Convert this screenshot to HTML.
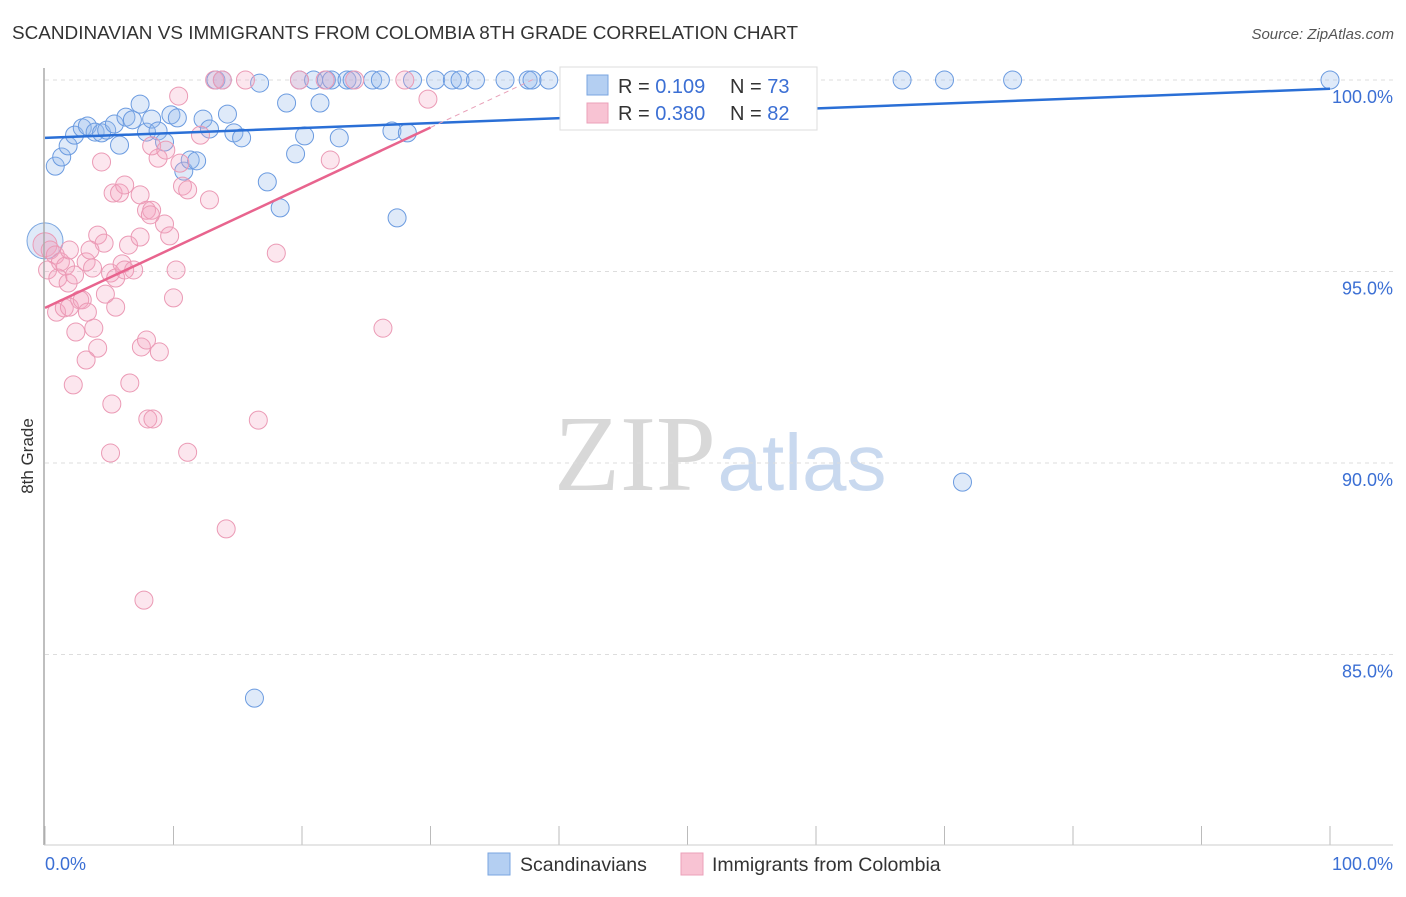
<!DOCTYPE html>
<html><head><meta charset="utf-8"><style>
body{margin:0;background:#fff;font-family:"Liberation Sans",sans-serif}
</style></head><body>
<svg width="1406" height="892" xmlns="http://www.w3.org/2000/svg" id="c">
<text x="12" y="39" font-size="18.5" fill="#333" textLength="786" lengthAdjust="spacingAndGlyphs">SCANDINAVIAN VS IMMIGRANTS FROM COLOMBIA 8TH GRADE CORRELATION CHART</text>
<text x="1394" y="39" font-size="15" fill="#555" font-style="italic" text-anchor="end">Source: ZipAtlas.com</text>
<text x="33" y="456" font-size="17" fill="#333" text-anchor="middle" transform="rotate(-90 33 456)">8th Grade</text>
<g>
<text x="635" y="490" font-size="108" fill="#d8d8d8" font-family="Liberation Serif,serif" text-anchor="middle">ZIP</text>
<text x="802" y="490" font-size="80" fill="#c9d9ef" text-anchor="middle">atlas</text>
</g>
<g id="grid"></g><g id="pts"></g><g id="lines"></g>
<line x1="44" y1="68" x2="44" y2="845" stroke="#aaa" stroke-width="1.5"/>
<line x1="44" y1="845" x2="1393" y2="845" stroke="#ccc"/>
<text x="45" y="870" font-size="18" fill="#3b6fd4">0.0%</text>
<text x="1393" y="870" font-size="18" fill="#3b6fd4" text-anchor="end">100.0%</text>
<g>
<rect x="560" y="67" width="257" height="63" fill="#fff" stroke="#ddd"/>
<rect x="587" y="75" width="21" height="20" fill="#b4cff2" stroke="#7aa6e0"/>
<rect x="587" y="103" width="21" height="20" fill="#f8c3d3" stroke="#eba0b9"/>
<text x="618" y="93" font-size="20" fill="#333">R = <tspan fill="#3b6fd4">0.109</tspan></text>
<text x="730" y="93" font-size="20" fill="#333">N = <tspan fill="#3b6fd4">73</tspan></text>
<text x="618" y="120" font-size="20" fill="#333">R = <tspan fill="#3b6fd4">0.380</tspan></text>
<text x="730" y="120" font-size="20" fill="#333">N = <tspan fill="#3b6fd4">82</tspan></text>
</g>
<g>
<rect x="488" y="853" width="22" height="22" fill="#b4cff2" stroke="#7aa6e0"/>
<text x="520" y="871" font-size="19.5" fill="#333">Scandinavians</text></g>
<g>
<rect x="681" y="853" width="22" height="22" fill="#f8c3d3" stroke="#eba0b9"/>
<text x="712" y="871" font-size="19.5" fill="#333">Immigrants from Colombia</text></g>
</svg>
<script>
const yTicks=[100,95,90,85];
const xTicks=[0,10,20,30,40,50,60,70,80,90,100];
const blueX=[0.8,1.3,1.8,2.3,2.9,3.3,3.9,4.4,4.8,5.4,5.8,6.3,6.8,7.4,7.9,8.3,8.8,9.3,9.8,10.3,10.8,11.3,11.8,12.3,12.8,13.3,13.8,14.2,14.7,15.3,16.7,17.3,18.3,18.8,19.5,19.8,20.2,20.9,21.4,21.9,22.3,22.9,23.5,23.9,25.5,26.1,27.0,27.4,28.2,28.6,30.4,31.7,32.3,33.5,35.8,37.6,37.9,39.2,42.0,45.5,47.1,48.9,50.4,52.3,66.7,70.0,75.3,100,71.4,16.3];
const blueY=[97.75,97.99,98.28,98.56,98.75,98.8,98.64,98.62,98.69,98.85,98.3,99.03,98.96,99.37,98.64,98.98,98.67,98.38,99.09,99.01,97.62,97.91,97.89,98.98,98.72,100,100,99.11,98.62,98.49,99.92,97.34,96.66,99.4,98.07,100,98.54,100,99.4,100,100,98.49,100,100,100,100,98.67,96.4,98.62,100,100,100,100,100,100,100,100,100,100,100,100,100,100,100,100,100,100,100,89.5,83.86];
const pinkX=[0.4,0.8,1.2,1.6,1.9,0.2,1.0,1.8,2.3,2.7,3.2,3.7,4.1,4.6,5.1,5.5,6.0,6.5,6.9,7.4,7.9,8.3,8.8,9.3,9.7,10.2,10.7,11.1,12.8,0.9,1.5,1.9,2.4,2.9,3.3,3.8,4.1,3.2,5.5,4.7,5.3,5.8,6.2,4.4,7.4,8.2,8.3,9.4,10.4,12.1,7.5,7.9,8.9,10.0,6.6,5.2,8.0,8.4,2.2,5.1,11.1,16.6,14.1,7.7,18.0,26.3,22.2,29.8,13.2,15.6,19.8,21.8,24.1,28.0,13.8,10.5,6.2,3.5];
const pinkY=[95.56,95.43,95.25,95.14,95.56,95.04,94.83,94.7,94.91,94.26,95.25,95.09,95.95,95.74,94.96,94.83,95.2,95.69,95.04,95.9,96.6,96.6,97.96,96.24,95.93,95.04,97.23,97.13,96.87,93.94,94.05,94.07,93.42,94.26,93.94,93.52,93.0,92.69,94.07,94.41,97.05,97.05,97.26,97.86,97.0,96.48,98.28,98.17,99.58,98.56,93.03,93.21,92.9,94.31,92.09,91.54,91.15,91.15,92.04,90.26,90.28,91.12,88.28,86.42,95.48,93.52,97.91,99.5,100,100,100,100,100,100,100,97.83,95.04,95.56];
const blueTrend=[98.49,99.77];
const pinkTrend=[94.05,0.157];
const sx=v=>45+v*12.85, sy=v=>80+(100-v)*38.3;
const NS='http://www.w3.org/2000/svg';
function mk(t,a,p){const e=document.createElementNS(NS,t);for(const k in a)e.setAttribute(k,a[k]);document.getElementById(p).appendChild(e);return e;}
yTicks.forEach(t=>{const l=mk('line',{x1:45,x2:1393,y1:sy(t),y2:sy(t),stroke:'#ddd','stroke-dasharray':'4 4'},'grid');


const tx=mk('text',{x:1393,y:sy(t)+23,'font-size':18,fill:'#3b6fd4','text-anchor':'end'},'grid');tx.textContent=t.toFixed(1)+'%';

});
xTicks.forEach(t=>{const l=mk('line',{x1:sx(t),x2:sx(t),y1:826,y2:845,stroke:'#bbb'},'grid');

});
const big=mk('circle',{cx:sx(0),cy:sy(95.8),r:18,fill:'rgba(150,185,235,0.3)',stroke:'#7aa6e0'},'pts');


blueX.forEach((x,i)=>{const c=mk('circle',{cx:sx(x),cy:sy(blueY[i]),r:9,fill:'rgba(150,185,235,0.3)',stroke:'#6b9be0','stroke-width':1},'pts');

});
const big2=mk('circle',{cx:sx(0),cy:sy(95.7),r:12,fill:'rgba(240,160,190,0.3)',stroke:'#eb9ab5'},'pts');


pinkX.forEach((x,i)=>{const c=mk('circle',{cx:sx(x),cy:sy(pinkY[i]),r:9,fill:'rgba(245,165,195,0.28)',stroke:'#eb9ab5','stroke-width':1},'pts');

});
const bl=mk('line',{x1:sx(0),y1:sy(blueTrend[0]),x2:sx(100),y2:sy(blueTrend[1]),stroke:'#2a6fd6','stroke-width':2.5},'lines');


const pl=mk('line',{x1:sx(0),y1:sy(pinkTrend[0]),x2:sx(30),y2:sy(pinkTrend[0]+30*pinkTrend[1]),stroke:'#e8648e','stroke-width':2.5},'lines');


const pd=mk('line',{x1:sx(30),y1:sy(pinkTrend[0]+30*pinkTrend[1]),x2:sx(38),y2:sy(pinkTrend[0]+38*pinkTrend[1]),stroke:'#e8a0b8','stroke-width':1,'stroke-dasharray':'5 4'},'lines');


</script>
</body></html>
